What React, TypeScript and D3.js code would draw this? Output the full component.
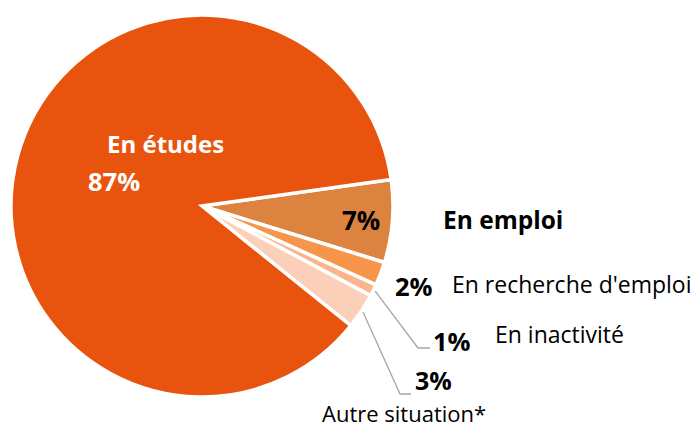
import { useEffect, useRef } from 'react';
import * as d3 from 'd3';

const categories = ['En emploi', "En recherche d'emploi", 'En inactivité', 'Autre situation*', 'En études'];
const values = [7, 2, 1, 3, 87];
const colors = ['#DC843F', '#F7964A', '#FBB58C', '#FCCFB8', '#E8540E'];

const width = 695;
const height = 428;

const App = () => {
  const svgRef = useRef<SVGSVGElement>(null);

  useEffect(() => {
    if (!svgRef.current) return;
    const svg = d3.select(svgRef.current);
    svg.selectAll('*').remove();

    const cx = 202;
    const cy = 206;
    const r = 191;
    const start = (82 * Math.PI) / 180;

    const pie = d3.pie<number>().sort(null).value(d => d)
      .startAngle(start).endAngle(start + 2 * Math.PI);
    const arcs = pie(values);
    const arc = d3.arc<d3.PieArcDatum<number>>().innerRadius(0).outerRadius(r);

    const g = svg.append('g').attr('transform', `translate(${cx},${cy})`);

    g.selectAll('path')
      .data(arcs)
      .enter()
      .append('path')
      .attr('d', arc)
      .attr('fill', (_, i) => colors[i])
      .attr('stroke', '#fff')
      .attr('stroke-width', 3.5)
      .attr('stroke-linejoin', 'miter');

    const font = "'Open Sans', sans-serif";

    // Leader lines for the thin slices
    const leader = [
      { i: 2, pts: [[0, 0], [418, 348], [430, 348]] },
      { i: 3, pts: [[0, 0], [400, 394], [411, 394]] },
    ];
    leader.forEach(l => {
      const a = arcs[l.i];
      const mid = (a.startAngle + a.endAngle) / 2;
      const sx = cx + Math.sin(mid) * (r + 2);
      const sy = cy - Math.cos(mid) * (r + 2);
      const pts = l.pts.map((p, k) => (k === 0 ? [sx, sy] : p));
      svg.append('path')
        .attr('d', d3.line()(pts as [number, number][]))
        .attr('fill', 'none')
        .attr('stroke', '#A6A6A6')
        .attr('stroke-width', 1.3);
    });

    const texts = [
      { t: 'En études', x: 107, y: 153, w: 'bold', s: 24, c: '#fff' },
      { t: `${values[4]}%`, x: 88, y: 191, w: 'bold', s: 25.5, c: '#fff' },
      { t: `${values[0]}%`, x: 342, y: 230, w: 'bold', s: 26, c: '#000' },
      { t: categories[0], x: 443, y: 229, w: 'bold', s: 24.5, c: '#000' },
      { t: `${values[1]}%`, x: 395, y: 296, w: 'bold', s: 25.5, c: '#000' },
      { t: categories[1], x: 452, y: 293, w: 'normal', s: 23, c: '#000' },
      { t: `${values[2]}%`, x: 433, y: 351, w: 'bold', s: 25.5, c: '#000' },
      { t: categories[2], x: 495, y: 343, w: 'normal', s: 23, c: '#000' },
      { t: `${values[3]}%`, x: 415, y: 390, w: 'bold', s: 25, c: '#000' },
      { t: categories[3], x: 322, y: 421.5, w: 'normal', s: 22, c: '#000' },
    ];
    svg.selectAll('text.lbl')
      .data(texts)
      .enter()
      .append('text')
      .attr('class', 'lbl')
      .attr('x', d => d.x)
      .attr('y', d => d.y)
      .attr('font-family', font)
      .attr('font-weight', d => d.w)
      .attr('font-size', d => d.s)
      .attr('fill', d => d.c)
      .text(d => d.t);
  }, []);

  return (
    <svg
      ref={svgRef}
      width={width}
      height={height}
      style={{ position: 'absolute', left: 0, top: 0, background: '#fff' }}
    />
  );
};

export default App;
